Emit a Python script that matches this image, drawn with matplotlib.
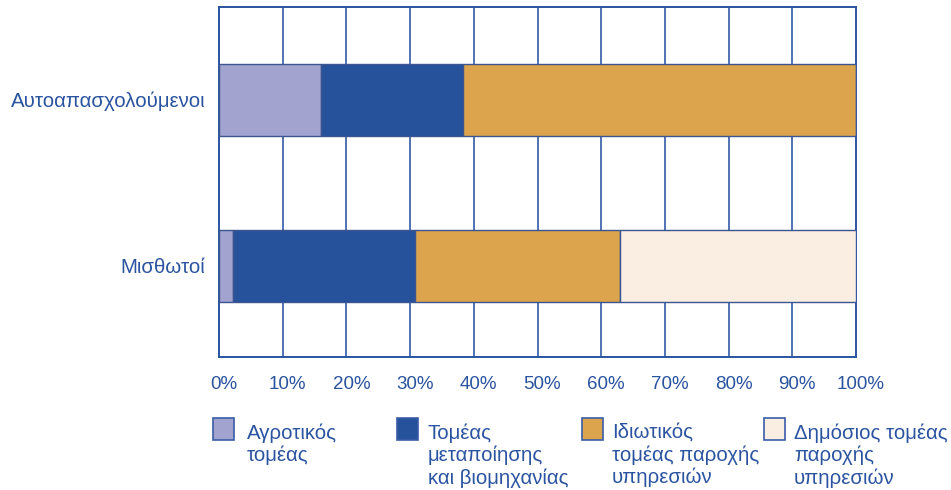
import numpy as np
import matplotlib
matplotlib.use("Agg")
import matplotlib.pyplot as plt
import matplotlib.transforms as mtransforms
from matplotlib.patches import Rectangle

plt.rcParams['font.family'] = ['Liberation Sans', 'DejaVu Sans']

# data
groups = ["Μισθωτοί", "Αυτοαπασχολούμενοι"]
sectors = ["Αγροτικός\nτομέας",
           "Τομέας\nμεταποίησης\nκαι βιομηχανίας",
           "Ιδιωτικός\nτομέας παροχής\nυπηρεσιών",
           "Δημόσιος τομέας\nπαροχής\nυπηρεσιών"]
shares = {
    "Μισθωτοί": [2.2, 28.5, 32.2, 37.1],
    "Αυτοαπασχολούμενοι": [16.0, 22.3, 61.7, 0.0],
}
xticks = np.arange(0, 101, 10)
xticklabels = [str(v) + "%" for v in xticks]

colors = ["#a2a3cf", "#26529c", "#dca44c", "#faede2"]
blue = "#2a53a0"

fig = plt.figure(figsize=(9.51, 4.90), dpi=100)
ax = fig.add_axes([219 / 951, 1 - 357 / 490, 637 / 951, 350 / 490])

y = np.arange(len(groups))
left = np.zeros(len(groups))
for i, sec in enumerate(sectors):
    vals = np.array([shares[g][i] for g in groups])
    ax.barh(y, vals, left=left, height=0.434, color=colors[i],
            edgecolor="#3a5590", linewidth=1.0, zorder=3)
    left += vals

ax.set_xlim(0, 100)
ax.set_ylim(-0.548, 1.557)
ax.set_xticks(xticks)
ax.set_xticklabels(xticklabels, fontsize=13.5, color=blue)
ax.set_yticks(y)
ax.set_yticklabels(groups, fontsize=14.7, color=blue)
ax.tick_params(axis='x', length=0, pad=14)
ax.tick_params(axis='y', length=0, pad=10)
# labels in the original sit a few pixels right of the grid lines
shift = mtransforms.ScaledTranslation(5 / 100, 0, fig.dpi_scale_trans)
for lab in ax.get_xticklabels():
    lab.set_transform(lab.get_transform() + shift)
for v in xticks[1:-1]:
    ax.axvline(v, color="#5073b3", linewidth=1.4, zorder=1)
for s in ax.spines.values():
    s.set_color(blue)
    s.set_linewidth(1.4)

# legend drawn by hand
sq_x = [213, 397, 582, 764]
tx_x = [247, 428, 612, 794]
for i, sec in enumerate(sectors):
    fig.add_artist(Rectangle((sq_x[i] / 951, 1 - 440 / 490), 21 / 951, 22 / 490,
                             transform=fig.transFigure, facecolor=colors[i],
                             edgecolor="#3a5ca8", linewidth=1.2))
    fig.text(tx_x[i] / 951, 1 - 423 / 490, sec, fontsize=14.7, color=blue,
             ha='left', va='top', linespacing=1.2)

fig.savefig("out.png", dpi=100)
